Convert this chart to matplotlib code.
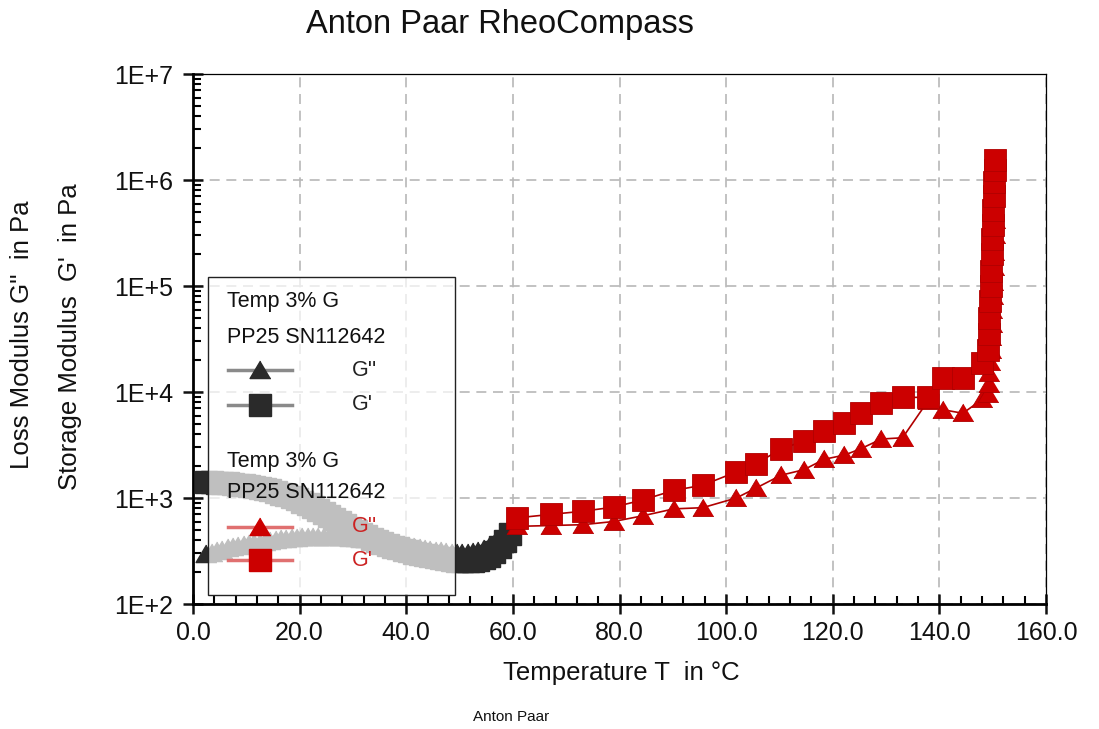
import numpy as np
import matplotlib
matplotlib.use("Agg")
import matplotlib.pyplot as plt
from matplotlib.patches import Rectangle
from matplotlib.ticker import FixedLocator, FuncFormatter, LogLocator, MultipleLocator

plt.rcParams["font.family"] = ["Liberation Sans", "DejaVu Sans"]

# first run (black): temperature sweep up to 60 °C
temp_run1 = [
	2.5, 3.5, 4.5, 5.5, 6.5, 7.5, 8.5, 9.5, 10.5, 11.5,
	12.5, 13.5, 14.5, 15.5, 16.5, 17.5, 18.5, 19.5, 20.5, 21.5,
	22.5, 23.5, 24.5, 25.5, 26.5, 27.5, 28.5, 29.5, 30.5, 31.5,
	32.5, 33.5, 34.5, 35.5, 36.5, 37.5, 38.5, 39.5, 40.5, 41.5,
	42.5, 43.5, 44.5, 45.5, 46.5, 47.5, 48.5, 49.5, 50.5, 51.5,
	52.5, 53.5, 54.5, 55.5, 56.5, 57.5, 58.5, 59.5,
]
gp_run1 = [
	1420, 1410, 1400, 1390, 1375, 1360, 1340, 1320, 1300, 1280,
	1250, 1215, 1180, 1140, 1100, 1060, 1015, 970, 925, 875,
	825, 775, 725, 680, 635, 595, 555, 520, 488, 460,
	435, 412, 396, 378, 362, 348, 335, 325, 315, 305,
	296, 288, 281, 275, 269, 264, 260, 257, 255, 255,
	257, 262, 271, 286, 310, 345, 395, 460,
]
gpp_run1 = [
	295, 305, 315, 325, 334, 343, 351, 359, 366, 373,
	380, 387, 394, 400, 406, 412, 417, 422, 426, 429,
	431, 432, 433, 433, 432, 430, 427, 423, 419, 414,
	409, 403, 397, 391, 385, 378, 370, 362, 354, 346,
	339, 332, 325, 319, 313, 308, 304, 302, 302, 305,
	310, 318, 329, 344, 365, 393, 430, 480,
]

# second run (red): 60 °C up to curing
temp_run2 = [
	60.8, 67.1, 73.1, 78.9, 84.4, 90.2, 95.6, 101.9, 105.6, 110.3,
	114.6, 118.4, 122.2, 125.3, 129.1, 133.1, 137.9, 140.7, 144.4, 148.0,
	149.2, 149.3, 149.4, 149.5, 149.6, 149.7, 149.8, 149.9, 150.0, 150.1,
	150.2, 150.3, 150.4, 150.5,
]
gp_run2 = [
	650, 700, 750, 820, 960, 1180, 1320, 1760, 2100, 2900,
	3450, 4300, 5050, 6300, 7800, 8900, 8900, 13700, 13700, 18800,
	25000, 35000, 50000, 72000, 100000, 140000, 200000, 280000, 380000, 520000,
	700000, 950000, 1250000, 1550000,
]
gpp_run2 = [
	540, 550, 560, 600, 680, 790, 810, 1000, 1240, 1640,
	1850, 2320, 2540, 2920, 3600, 3700, 8300, 6800, 6300, 8500,
	9600, 12000, 15000, 19000, 25000, 33000, 44000, 60000, 80000, 110000,
	150000, 210000, 300000, 420000,
]

x_ticks = [0, 20, 40, 60, 80, 100, 120, 140, 160]
y_ticks = [1e2, 1e3, 1e4, 1e5, 1e6, 1e7]

W, H = 1099, 729
BLACK = "#2a2a2a"
RED = "#cc0000"


def fx(px):
	return px / W


def fy(py):
	return 1 - py / H


tri = [(0, 1), (-1.1, -0.85), (1.1, -0.85)]

fig = plt.figure(figsize=(W / 100, H / 100), dpi=100)
ax = fig.add_axes([fx(193), fy(604), 853 / W, 530 / H])
ax.set_yscale("log")
ax.set_xlim(0, 160)
ax.set_ylim(1e2, 1e7)

# black run
ax.plot(temp_run1, gpp_run1, color=BLACK, lw=1, marker=tri, ms=15,
	mfc=BLACK, mec=BLACK, zorder=3)
ax.plot(temp_run1, gp_run1, color=BLACK, lw=1, marker="s", ms=15.5,
	mfc=BLACK, mec=BLACK, zorder=3)

# red run
ax.plot(temp_run2, gpp_run2, color="#b00000", lw=1.2, marker=tri, ms=15,
	mfc=RED, mec="#b00000", mew=0.6, zorder=4)
ax.plot(temp_run2, gp_run2, color="#b00000", lw=1.2, marker="s", ms=15.5,
	mfc=RED, mec="#b00000", mew=0.6, zorder=4)

# axes styling
ax.xaxis.set_major_locator(FixedLocator(x_ticks))
ax.xaxis.set_minor_locator(MultipleLocator(4))
ax.xaxis.set_major_formatter(FuncFormatter(lambda v, p: f"{v:.1f}"))
ax.yaxis.set_major_locator(FixedLocator(y_ticks))
ax.yaxis.set_minor_locator(LogLocator(base=10, subs=np.arange(2, 10)))
ax.yaxis.set_major_formatter(FuncFormatter(lambda v, p: f"1E+{int(round(np.log10(v)))}"))

ax.tick_params(which="major", direction="inout", length=15, width=1.8,
	labelsize=18, colors="#111111")
ax.tick_params(which="minor", direction="in", length=6, width=1.5)
ax.tick_params(axis="y", which="major", pad=7)
ax.tick_params(axis="x", which="major", pad=5)

for side in ["left", "bottom"]:
	ax.spines[side].set_linewidth(2)
for side in ["top", "right"]:
	ax.spines[side].set_linewidth(0.9)

ax.grid(True, which="major", color="#b8b8b8", lw=1.2, ls=(0, (6, 4)))
ax.set_axisbelow(True)

# legend built by hand: translucent box over the data
ax.add_patch(Rectangle((fx(208), fy(595)), 247 / W, 318 / H,
	transform=fig.transFigure, facecolor="white", alpha=0.7,
	edgecolor="none", zorder=10, clip_on=False))
ax.add_patch(Rectangle((fx(208), fy(595)), 247 / W, 318 / H,
	transform=fig.transFigure, facecolor="none", edgecolor="#222222",
	lw=1, zorder=11, clip_on=False))

legend_rows = [
	(302, 337, 370, 405, "#8a8a8a", BLACK, "#222222"),
	(462, 493, 527, 560, "#e07070", RED, "#cc2222"),
]
for y1, y2, yt, ys, line_c, mark_c, text_c in legend_rows:
	ax.text(fx(227), fy(y1), "Temp 3% G", transform=fig.transFigure,
		fontsize=15.5, va="center", ha="left", color="#111111", zorder=12)
	ax.text(fx(227), fy(y2), "PP25 SN112642", transform=fig.transFigure,
		fontsize=15.5, va="center", ha="left", color="#111111", zorder=12)
	for yy, mk, ms, lab in [(yt, tri, 15, "G''"), (ys, "s", 15.5, "G'")]:
		ax.plot([fx(228), fx(292)], [fy(yy), fy(yy)], transform=fig.transFigure,
			color=line_c, lw=2.5, clip_on=False, zorder=12)
		ax.plot([fx(260)], [fy(yy)], transform=fig.transFigure, marker=mk,
			ms=ms, color=mark_c, clip_on=False, zorder=13)
		ax.text(fx(352), fy(yy), lab, transform=fig.transFigure,
			fontsize=15.5, va="center", ha="left", color=text_c, zorder=12)

# titles and labels
fig.text(fx(500), fy(25), "Anton Paar RheoCompass", fontsize=23.5,
	ha="center", va="center", color="#111111")
fig.text(fx(621), fy(673), "Temperature T  in °C", fontsize=18.5,
	ha="center", va="center", color="#111111")
fig.text(fx(22), fy(335), "Loss Modulus G''  in Pa", fontsize=18.5,
	rotation=90, ha="center", va="center", color="#111111")
fig.text(fx(70), fy(337), "Storage Modulus  G'  in Pa", fontsize=18.5,
	rotation=90, ha="center", va="center", color="#111111")
fig.text(fx(511), fy(717), "Anton Paar", fontsize=11,
	ha="center", va="center", color="#111111")

fig.savefig("out.png", dpi=100)
